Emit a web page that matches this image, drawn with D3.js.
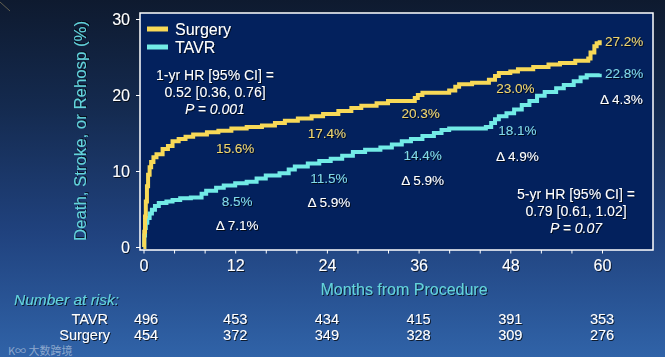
<!DOCTYPE html>
<html><head><meta charset="utf-8">
<script src="https://cdn.jsdelivr.net/npm/d3@7"></script>
<style>
html,body{margin:0;padding:0;background:#0f1b31;}
svg{display:block;font-family:"Liberation Sans",Arial,sans-serif;}
</style></head>
<body><svg id="c" width="665" height="357"></svg>
<script>
// ---------- data ----------
const xTickMonths = [0, 12, 24, 36, 48, 60];
const yTickValues = [0, 10, 20, 30];
const tavrAtRisk = [496, 453, 434, 415, 391, 353];
const surgeryAtRisk = [454, 372, 349, 328, 309, 276];

const surgeryTime = [0,0.1,0.2,0.3,0.45,0.6,0.8,1.0,1.3,1.7,2.5,3.2,3.8,4.6,5.5,6.5,8.3,9.8,11.5,13.5,15.5,17.2,18.5,20.2,22,23.5,25.5,27.2,28.5,30.5,32,35.5,35.9,36.5,40,40.8,41.3,43,45.2,46,46.5,48,49,51,53,54.5,56.5,58.2,58.5,59,59.3,59.7];
const surgeryPct  = [0,2,4,6,8,9.5,10.5,11.2,11.8,12.2,12.9,13.3,13.9,14.2,14.5,14.8,15.1,15.3,15.6,15.8,16.0,16.3,16.6,16.9,17.2,17.5,17.9,18.3,18.6,18.9,19.2,19.6,20.0,20.3,20.6,21.1,21.4,21.6,22.0,22.5,22.9,23.1,23.4,23.7,24.0,24.2,24.5,24.8,25.6,26.4,26.8,27.2];

const tavrTime = [0,0.1,0.2,0.3,0.5,0.8,1.1,1.5,2.0,3.0,3.8,4.8,6.2,7.6,8.2,9.5,10.5,12,13.5,14.8,16,17.8,19,19.8,21.5,23,24.5,26,27.4,29,31,32.5,33.8,35,36.5,38,39,40,44.8,45.5,46,46.5,47.5,48.5,49.5,50.5,51.5,52.5,54,55,56.3,57.2,58,59.7];
const tavrPct  = [0,1.5,2.5,3.2,3.8,4.4,4.9,5.4,5.8,6.0,6.2,6.4,6.5,7.0,7.4,7.8,8.1,8.4,8.6,9.0,9.4,9.7,10.2,10.6,11.0,11.3,11.6,12.0,12.5,12.8,13.1,13.5,13.9,14.2,14.6,15.0,15.4,15.6,15.8,16.3,16.8,17.2,17.6,18.1,18.7,19.2,19.9,20.4,20.9,21.3,21.8,22.3,22.6,22.8];

const seriesNames = ["Surgery", "TAVR"];
const surgeryLabelMonths = [12, 24, 36, 48];
const surgeryLabelText = ["15.6%", "17.4%", "20.3%", "23.0%"];
const tavrLabelMonths = [12, 24, 36, 48];
const tavrLabelText = ["8.5%", "11.5%", "14.4%", "18.1%"];
const deltaText = ["\u0394 7.1%", "\u0394 5.9%", "\u0394 5.9%", "\u0394 4.9%"];
const endLabels = ["27.2%", "22.8%", "\u0394 4.3%"];
const hr1Lines = ["1-yr HR [95% CI] =", "0.52 [0.36, 0.76]", "P = 0.001"];
const hr5Lines = ["5-yr HR [95% CI] =", "0.79 [0.61, 1.02]", "P = 0.07"];

// ---------- styles ----------
const YEL = "#f8d957", CYAN = "#72ebe6";
const YEL_T = "#efd46c", CYAN_T = "#80d8e6", TITLE_C = "#63d3dc";

const svg = d3.select("#c");
const defs = svg.append("defs");
const bg = defs.append("linearGradient").attr("id","bg").attr("x1",0).attr("y1",0).attr("x2",0).attr("y2",1);
[[0,"#0e1a2f"],[0.3,"#142a4f"],[0.65,"#20427e"],[1,"#3063a8"]].forEach(([o,c])=>bg.append("stop").attr("offset",o).attr("stop-color",c));
const sh = defs.append("filter").attr("id","sh").attr("x","-10%").attr("y","-20%").attr("width","130%").attr("height","160%");
sh.append("feDropShadow").attr("dx",1).attr("dy",1).attr("stdDeviation",0.6).attr("flood-color","#000").attr("flood-opacity",0.7);

svg.append("rect").attr("width",665).attr("height",357).attr("fill","url(#bg)");
svg.append("line").attr("x1",0).attr("y1",2).attr("x2",10).attr("y2",11).attr("stroke","#c9b57a").attr("stroke-opacity",0.45).attr("stroke-width",1);

// scales
const x = d3.scaleLinear().domain([0,60]).range([143.5,602]);
const y = d3.scaleLinear().domain([0,30]).range([247,19]);
const frame = {x0:140, x1:653, y0:13, y1:250};

svg.append("rect").attr("x",frame.x0).attr("y",frame.y0).attr("width",frame.x1-frame.x0).attr("height",frame.y1-frame.y0)
  .attr("fill","#03215d").attr("stroke","#ffffff").attr("stroke-width",1.5);

// axes
const yAxis = d3.axisLeft(y).tickValues(yTickValues).tickSize(4).tickPadding(6);
const gy = svg.append("g").attr("transform",`translate(${frame.x0},0)`).call(yAxis);
gy.select(".domain").remove();
gy.selectAll("line").attr("stroke","#fff");
gy.selectAll("text").attr("fill","#fff").attr("font-size",16).attr("font-family","Liberation Sans, Arial, sans-serif").attr("filter","url(#sh)");

const xAxis = d3.axisBottom(x).tickValues(d3.range(0,61,4)).tickSize(3.5).tickPadding(6)
  .tickFormat(d => xTickMonths.includes(d) ? d : "");
const gx = svg.append("g").attr("transform",`translate(0,${frame.y1})`).call(xAxis);
gx.select(".domain").remove();
gx.selectAll("line").attr("stroke","#fff");
gx.selectAll("text").attr("fill","#fff").attr("font-size",16).attr("font-family","Liberation Sans, Arial, sans-serif").attr("filter","url(#sh)");

// axis titles
svg.append("text").attr("transform","translate(86,131) rotate(-90)").attr("text-anchor","middle")
  .attr("fill",TITLE_C).attr("font-size",16.8).attr("filter","url(#sh)").text("Death, Stroke, or Rehosp (%)");
svg.append("text").attr("x",404).attr("y",295).attr("text-anchor","middle")
  .attr("fill",TITLE_C).attr("font-size",16).attr("filter","url(#sh)").text("Months from Procedure");

// curves
const line = d3.line().x(d=>x(d[0])).y(d=>y(d[1])).curve(d3.curveStepAfter);
const surgeryData = surgeryTime.map((t,i)=>[t,surgeryPct[i]]);
const tavrData = tavrTime.map((t,i)=>[t,tavrPct[i]]);
svg.append("path").datum(tavrData).attr("d",line).attr("fill","none").attr("stroke",CYAN).attr("stroke-width",4).attr("stroke-linejoin","miter");
svg.append("path").datum(surgeryData).attr("d",line).attr("fill","none").attr("stroke",YEL).attr("stroke-width",4).attr("stroke-linejoin","miter");

// legend
const legend = svg.append("g");
[[YEL,0],[CYAN,1]].forEach(([c,i])=>{
  legend.append("line").attr("x1",147).attr("x2",168).attr("y1",29+i*18).attr("y2",29+i*18).attr("stroke",c).attr("stroke-width",5);
  legend.append("text").attr("x",175).attr("y",35+i*18).attr("fill","#fff").attr("font-size",16).attr("filter","url(#sh)").text(seriesNames[i]);
});

// annotations
const ann = svg.append("g").attr("font-size",13.5).attr("text-anchor","middle").attr("filter","url(#sh)");
function hrBlock(lines, cx, y0){
  lines.forEach((t,i)=>{
    ann.append("text").attr("x",cx).attr("y",y0+i*17).attr("fill","#fff").attr("font-size",14)
      .attr("font-style", i===2 ? "italic" : "normal").text(t);
  });
}
hrBlock(hr1Lines, 215, 80);
hrBlock(hr5Lines, 576, 199);

const surgLabelY = [153, 138, 118, 93];
const tavrLabelY = [206, 183, 160, 135];
const deltaY = [230, 207, 185, 161];
const labelDx = [0, 0, 2, 5];
surgeryLabelMonths.forEach((m,i)=>{
  ann.append("text").attr("x",x(m)+labelDx[i]).attr("y",surgLabelY[i]).attr("fill",YEL_T).text(surgeryLabelText[i]);
});
tavrLabelMonths.forEach((m,i)=>{
  ann.append("text").attr("x",x(m)+labelDx[i]+2).attr("y",tavrLabelY[i]).attr("fill",CYAN_T).text(tavrLabelText[i]);
  ann.append("text").attr("x",x(m)+labelDx[i]+2).attr("y",deltaY[i]).attr("fill","#fff").text(deltaText[i]);
});
ann.append("text").attr("text-anchor","start").attr("x",x(60)+3).attr("y",46).attr("fill",YEL_T).text(endLabels[0]);
ann.append("text").attr("text-anchor","start").attr("x",x(60)+3).attr("y",78).attr("fill",CYAN_T).text(endLabels[1]);
ann.append("text").attr("text-anchor","start").attr("x",x(60)-2).attr("y",104).attr("fill","#fff").text(endLabels[2]);

// number at risk
const risk = svg.append("g").attr("font-size",14.5).attr("fill","#fff").attr("filter","url(#sh)");
risk.append("text").attr("x",14).attr("y",305).attr("fill",TITLE_C).attr("font-style","italic").attr("font-size",15.5).text("Number at risk:");
risk.append("text").attr("x",108).attr("y",324).attr("text-anchor","end").text(seriesNames[1]);
risk.append("text").attr("x",110).attr("y",340).attr("text-anchor","end").text(seriesNames[0]);
xTickMonths.forEach((m,i)=>{
  risk.append("text").attr("x",x(m)+(i===0?2.5:0)).attr("y",324).attr("text-anchor","middle").text(tavrAtRisk[i]);
  risk.append("text").attr("x",x(m)+(i===0?2.5:0)).attr("y",340).attr("text-anchor","middle").text(surgeryAtRisk[i]);
});

// watermark
svg.append("text").attr("x",8).attr("y",355).attr("font-size",11).attr("fill","#ffffff").attr("fill-opacity",0.45)
  .attr("font-family","Noto Sans CJK SC, sans-serif").text("K\u221E 大数跨境");
</script></body></html>
